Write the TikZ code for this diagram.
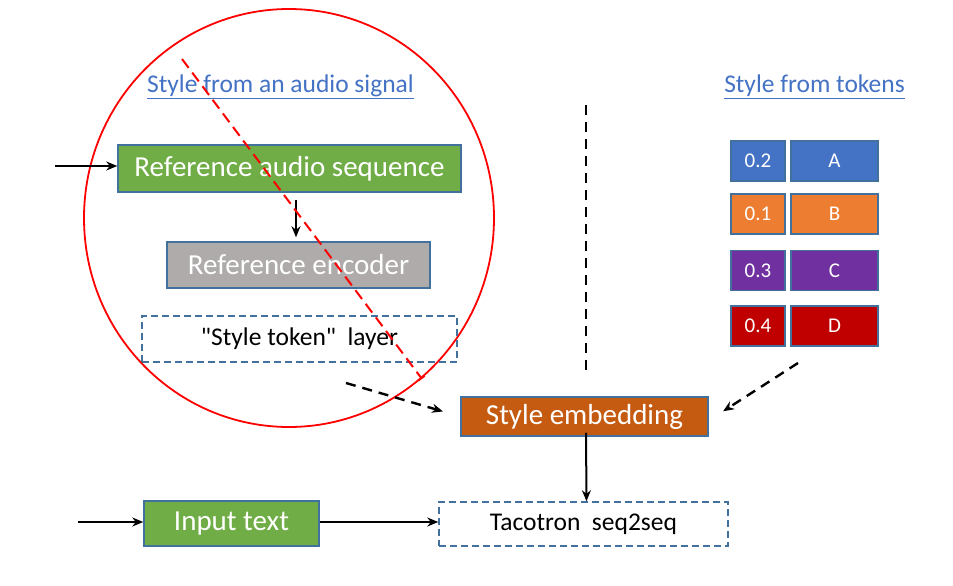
\documentclass[tikz,border=0pt]{standalone}
\usepackage{fontspec}
\setmainfont{Carlito}
\usepackage{xcolor}
\usetikzlibrary{arrows.meta,positioning}
\definecolor{boxgreen}{HTML}{70AD47}
\definecolor{boxgray}{HTML}{AFABAB}
\definecolor{boxorange}{HTML}{C55A11}
\definecolor{boxline}{HTML}{41719C}
\definecolor{linkblue}{HTML}{4472C4}
\definecolor{tokA}{HTML}{4472C4}
\definecolor{tokB}{HTML}{ED7D31}
\definecolor{tokC}{HTML}{7030A0}
\definecolor{tokD}{HTML}{C00000}
\tikzset{
  block/.style={draw=boxline,line width=1.5pt,text=white,inner sep=0pt,font=\fontsize{29}{34}\selectfont},
  dashblock/.style={draw=boxline,line width=1.5pt,dash pattern=on 7pt off 4pt,inner sep=0pt,font=\fontsize{25.5}{30}\selectfont},
  tokbox/.style={draw=boxline,line width=1.5pt,text=white,inner sep=0pt,minimum height=40pt,font=\fontsize{21}{25}\selectfont},
  headline/.style={text=linkblue,font=\fontsize{25.5}{30}\selectfont},
  flow/.style={-{Stealth[length=11pt,width=9pt]},line width=2pt},
  dflow/.style={-{Stealth[length=11pt,width=9pt]},line width=2.4pt,dash pattern=on 10pt off 7pt}
}
\begin{document}
\begin{tikzpicture}[x=1pt,y=-1pt]
  \useasboundingbox (0,0) rectangle (953,586);
  % crossed-out audio branch
  \draw[red,line width=1.8pt] (289,218) ellipse [x radius=205,y radius=209];
  \node[headline] (audiohead) at (280.5,87) {\underline{Style from an audio signal}};
  \node[block,fill=boxgreen,minimum width=343pt,minimum height=47pt] (refaudio) at (289.5,168.5) {Reference audio sequence};
  \node[block,fill=boxgray,minimum width=263pt,minimum height=46pt] (refenc) at (298.5,265) {Reference encoder};
  \node[dashblock,minimum width=315pt,minimum height=46pt] (tokenlayer) at (299.5,339) {\textquotedbl Style token\textquotedbl\ \ layer};
  \coordinate (audioin) at (55,166);
  \draw[flow] (audioin) -- (refaudio.west |- audioin);
  \draw[flow] ([xshift=6.5pt,yshift=-7pt]refaudio.south) -- ([xshift=-2.5pt,yshift=4pt]refenc.north);
  % separator
  \draw[line width=2pt,dash pattern=on 10pt off 7pt] (586,105) -- (586,370);
  % token branch
  \node[headline] (tokhead) at (814.5,87) {\underline{Style from tokens}};
  \foreach \val/\lab/\col/\y [count=\i] in {0.2/A/tokA/161,0.1/B/tokB/214,0.3/C/tokC/270.5,0.4/D/tokD/326}{
    \node[tokbox,fill=\col,minimum width=54pt] (tokw\i) at (758,\y) {\val};
    \node[tokbox,fill=\col,minimum width=87pt] (toks\i) at (834.5,\y) {\lab};
  }
  % style embedding and synthesis
  \node[block,fill=boxorange,minimum width=247pt,minimum height=39pt] (styleemb) at (584.5,416.5) {Style embedding};
  \node[dashblock,minimum width=289pt,minimum height=44pt] (tacotron) at (583.5,524) {Tacotron\ \ seq2seq};
  \node[block,fill=boxgreen,minimum width=175pt,minimum height=45pt] (inputtext) at (231.5,523.5) {Input text};
  \coordinate (audiotail) at (346,383);
  \coordinate (tokentail) at (798,363);
  \draw[dflow,shorten >=18pt] (audiotail) -- (styleemb.west);
  \draw[dflow,shorten >=17pt] (tokentail) -- ([yshift=-4pt]styleemb.east);
  \draw[flow] ([xshift=1.5pt,yshift=4pt]styleemb.south) -- ([xshift=3pt]tacotron.north);
  \coordinate (textin) at (78,522);
  \draw[flow] (textin) -- (inputtext.west |- textin);
  \draw[flow] (inputtext.east |- textin) -- (tacotron.west |- textin);
  % strike-through
  \draw[red,line width=2pt,dash pattern=on 11pt off 6pt,-{Bar[width=8pt]}] (182,59) -- (422,379);
\end{tikzpicture}
\end{document}
